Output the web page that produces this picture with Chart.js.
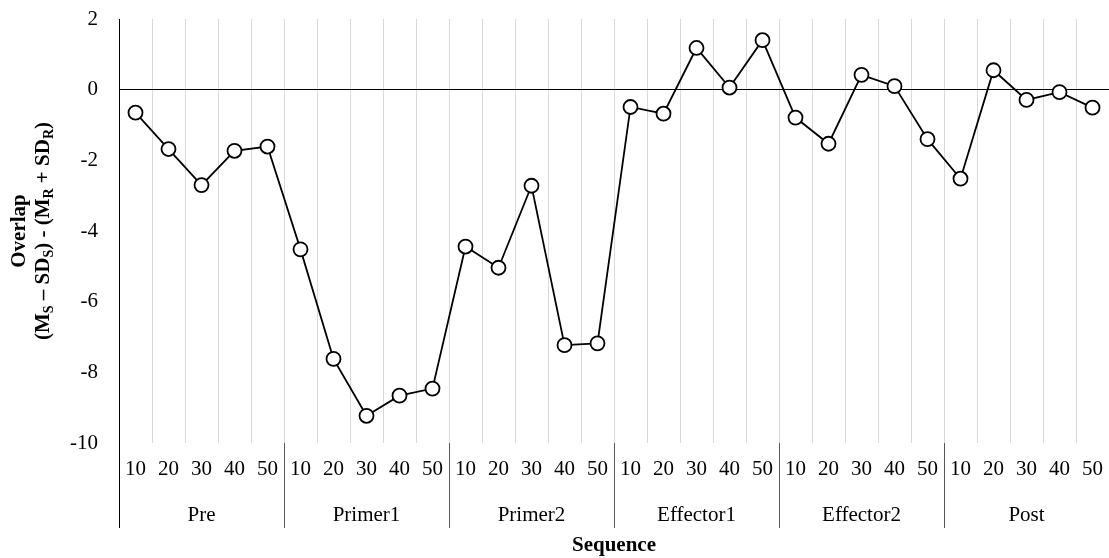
<!DOCTYPE html>
<html>
<head>
<meta charset="utf-8">
<script src="https://cdn.jsdelivr.net/npm/chart.js@4.4.1/dist/chart.umd.min.js"></script>
<style>
  body { margin: 0; background: #fff; }
  #wrap { width: 1109px; height: 558px; }
</style>
</head>
<body>
<div id="wrap"><canvas id="chart"></canvas></div>
<script>
// data
const groups = ['Pre', 'Primer1', 'Primer2', 'Effector1', 'Effector2', 'Post'];
const steps = ['10', '20', '30', '40', '50'];
const overlap = [
  -0.65, -1.68, -2.70, -1.73, -1.61,
  -4.52, -7.62, -9.23, -8.66, -8.46,
  -4.44, -5.04, -2.72, -7.23, -7.18,
  -0.49, -0.68, 1.18, 0.06, 1.40,
  -0.79, -1.53, 0.42, 0.10, -1.40,
  -2.52, 0.55, -0.29, -0.07, -0.51
];
const yTicks = [2, 0, -2, -4, -6, -8, -10];

const labels = [];
groups.forEach(g => steps.forEach(s => labels.push(s)));

const FONT = 'Liberation Serif, Times New Roman, serif';

// group names + separators under the step labels
const groupAxis = {
  id: 'groupAxis',
  afterDraw(chart) {
    const ctx = chart.ctx;
    const x = chart.scales.x;
    const area = chart.chartArea;
    const half = (x.getPixelForValue(1) - x.getPixelForValue(0)) / 2;
    ctx.save();
    ctx.lineWidth = 1;
    for (let i = 0; i <= groups.length; i++) {
      let px = i < groups.length ? x.getPixelForValue(i * 5) - half : area.right;
      px = Math.round(px) + 0.5;
      ctx.strokeStyle = i === 0 ? '#000' : '#595959';
      ctx.beginPath();
      ctx.moveTo(px, area.bottom);
      ctx.lineTo(px, 528);
      ctx.stroke();
    }
    ctx.fillStyle = '#000';
    ctx.font = '21px ' + FONT;
    ctx.textAlign = 'center';
    ctx.textBaseline = 'middle';
    groups.forEach((g, i) => {
      const cx = (x.getPixelForValue(i * 5) + x.getPixelForValue(i * 5 + 4)) / 2;
      ctx.fillText(g, cx, 515);
    });
    ctx.restore();
  }
};

// rotated y title with subscripts
const yTitle = {
  id: 'yTitle',
  afterDraw(chart) {
    const ctx = chart.ctx;
    const area = chart.chartArea;
    const cy = (area.top + area.bottom) / 2;
    const big = 'bold 21px ' + FONT;
    const small = 'bold 14px ' + FONT;
    const parts = [
      ['(M', 0], ['S', 1], [' \u2013 SD', 0], ['S', 1], [') - (M', 0],
      ['R', 1], [' + SD', 0], ['R', 1], [')', 0]
    ];
    ctx.save();
    ctx.fillStyle = '#000';
    ctx.textBaseline = 'middle';
    ctx.translate(20, cy);
    ctx.rotate(-Math.PI / 2);
    ctx.font = big;
    ctx.textAlign = 'center';
    ctx.fillText('Overlap', 0, 0);
    ctx.restore();

    ctx.save();
    ctx.fillStyle = '#000';
    ctx.textBaseline = 'middle';
    ctx.textAlign = 'left';
    ctx.translate(44, cy);
    ctx.rotate(-Math.PI / 2);
    let total = 0;
    parts.forEach(p => { ctx.font = p[1] ? small : big; total += ctx.measureText(p[0]).width; });
    let tx = -total / 2;
    parts.forEach(p => {
      ctx.font = p[1] ? small : big;
      ctx.fillText(p[0], tx, p[1] ? 5 : 0);
      tx += ctx.measureText(p[0]).width;
    });
    ctx.restore();
  }
};

new Chart(document.getElementById('chart'), {
  type: 'line',
  data: {
    labels: labels,
    datasets: [{
      data: overlap,
      borderColor: '#000',
      borderWidth: 1.8,
      backgroundColor: '#fff',
      pointBackgroundColor: '#fff',
      pointBorderColor: '#000',
      pointBorderWidth: 1.8,
      pointRadius: 7,
      tension: 0
    }]
  },
  options: {
    responsive: true,
    maintainAspectRatio: false,
    animation: false,
    layout: { autoPadding: false, padding: { top: 19, right: -3, bottom: 0, left: 0 } },
    plugins: { legend: { display: false }, tooltip: { enabled: false } },
    scales: {
      x: {
        type: 'category',
        offset: true,
        grid: { offset: true, color: '#d9d9d9', drawTicks: false },
        border: { display: false },
        ticks: {
          color: '#000', font: { family: FONT, size: 21 },
          padding: 14, maxRotation: 0, autoSkip: false
        },
        title: {
          display: true, text: 'Sequence', color: '#000',
          font: { family: FONT, size: 21, weight: 'bold' },
          padding: { top: 0, bottom: 0 }
        },
        afterFit(scale) {
          scale.height = 115;
          scale.paddingLeft = 0;
          scale.paddingRight = 0;
        }
      },
      y: {
        min: -10, max: 2,
        afterBuildTicks(scale) { scale.ticks = yTicks.map(v => ({ value: v })); },
        grid: {
          drawTicks: false,
          color: c => (c.tick && c.tick.value === 0 ? '#000' : 'rgba(0,0,0,0)'),
          lineWidth: 1
        },
        border: { display: true, color: '#000', width: 1 },
        ticks: { color: '#000', font: { family: FONT, size: 21 }, padding: 21 },
        afterFit(scale) {
          scale.width = 119;
          scale.paddingTop = 0;
          scale.paddingBottom = 0;
        }
      }
    }
  },
  plugins: [groupAxis, yTitle]
});
</script>
</body>
</html>
